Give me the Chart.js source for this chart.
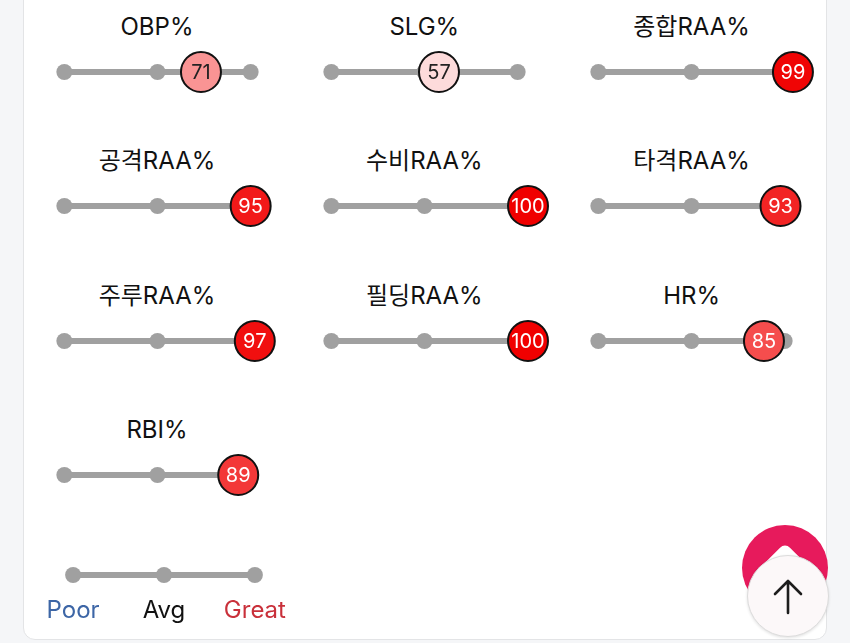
<!DOCTYPE html>
<html>
<head>
    <title>Percentile Rankings</title>
    <style>
        body {
            margin: 0;
            padding: 0;
            width: 850px;
            height: 643px;
            overflow: hidden;
            position: relative;
            background-color: #f5f6f8;
            font-family: Inter, "Noto Sans CJK KR", sans-serif;
        }

        #card {
            position: absolute;
            left: 23px;
            top: -20px;
            width: 802px;
            height: 658px;
            background-color: #fff;
            border: 1px solid #e3e4e6;
            border-radius: 12px;
        }

        .title {
            position: absolute;
            width: 267px;
            height: 30px;
            line-height: 30px;
            text-align: center;
            font-size: 24px;
            color: #111;
        }

        canvas {
            position: absolute;
        }

        #fabBack {
            position: absolute;
            left: 742px;
            top: 525px;
            width: 86px;
            height: 86px;
            border-radius: 50%;
            background-color: #e71a5c;
            overflow: hidden;
        }

        #fabPeak {
            position: absolute;
            left: 765px;
            top: 551px;
            width: 40px;
            height: 40px;
            background-color: #fff;
            border-radius: 7px 0 0 0;
            transform: rotate(45deg);
        }

        #fab {
            position: absolute;
            left: 747px;
            top: 555px;
            width: 80px;
            height: 80px;
            border-radius: 50%;
            background-color: #fcf8f9;
            border: 1px solid #dcdcdc;
            box-shadow: 0 1px 3px rgba(0, 0, 0, 0.12);
        }
    </style>
    <script src="https://cdn.jsdelivr.net/npm/chart.js"></script>
</head>
<body>
    <div id="card"></div>
    <div id="fabBack"></div>
    <div id="fabPeak"></div>
    <div id="fab">
        <svg width="80" height="80" viewBox="0 0 80 80">
            <path d="M40 25 L40 57 M27 38 L40 25 L53 38" fill="none" stroke="#1d1d1d" stroke-width="2.6" stroke-linecap="round" stroke-linejoin="round"/>
        </svg>
    </div>

    <script>
        // percentile data
        const metrics = ["OBP%", "SLG%", "종합RAA%", "공격RAA%", "수비RAA%", "타격RAA%", "주루RAA%", "필딩RAA%", "HR%", "RBI%"];
        const percentiles = [71, 57, 99, 95, 100, 93, 97, 100, 85, 89];
        const trackTicks = [5, 50, 95];
        const legendLabels = ["Poor", "Avg", "Great"];

        const GRAY = "#a0a0a0";
        const FONT = "Inter, 'Noto Sans CJK KR', sans-serif";
        const legendColors = ["#3d66a6", "#111111", "#c9303a"];

        // cell grid
        const cellLeft = 23.5, cellWidth = 267.3;
        const trackTop = 72, titleTop = 27, rowStep = 134.3;

        Chart.defaults.devicePixelRatio = 1;

        function pctColor(v) {
            if (v >= 50) {
                const t = (v - 50) / 50;
                const g = Math.round(255 * (1 - t));
                const r = Math.round(255 - 15 * t);
                return `rgb(${r},${g},${g})`;
            }
            const t = (50 - v) / 50;
            const c = Math.round(255 * (1 - t));
            return `rgb(${c},${c},${Math.round(255 - 15 * t)})`;
        }

        const valueLabel = {
            id: "valueLabel",
            afterDatasetsDraw(chart) {
                const ds = chart.data.datasets[0];
                if (!ds.isValue) return;
                const pt = chart.getDatasetMeta(0).data[0];
                const v = ds.data[0].x;
                const ctx = chart.ctx;
                ctx.save();
                ctx.font = "20px " + FONT;
                ctx.fillStyle = v >= 80 ? "#fff" : "#222";
                ctx.textAlign = "center";
                ctx.textBaseline = "middle";
                ctx.fillText(String(v), pt.x, pt.y + 1);
                ctx.restore();
            }
        };

        // draws Poor / Avg / Great under the key track
        const keyLabels = {
            id: "keyLabels",
            afterDraw(chart) {
                const ctx = chart.ctx;
                const y = chart.scales.y.getPixelForValue(0) + 36;
                ctx.save();
                ctx.font = "24px " + FONT;
                ctx.textAlign = "center";
                ctx.textBaseline = "middle";
                trackTicks.forEach(function (t, i) {
                    ctx.fillStyle = legendColors[i];
                    ctx.fillText(legendLabels[i], chart.scales.x.getPixelForValue(t), y);
                });
                ctx.restore();
            }
        };

        function trackDataset() {
            return {
                data: trackTicks.map(x => ({ x: x, y: 0 })),
                showLine: true,
                borderColor: GRAY,
                borderWidth: 6,
                pointRadius: 8,
                pointBackgroundColor: GRAY,
                pointBorderWidth: 0,
                order: 1,
                clip: false
            };
        }

        function baseOptions(bottom) {
            return {
                responsive: false,
                animation: false,
                events: [],
                layout: { padding: { left: 30, right: 30, top: 0, bottom: bottom } },
                scales: {
                    x: { type: "linear", min: 0, max: 100, display: false },
                    y: { min: -1, max: 1, display: false }
                },
                plugins: { legend: { display: false }, tooltip: { enabled: false } }
            };
        }

        metrics.forEach(function (name, i) {
            const col = i % 3, row = Math.floor(i / 3);
            const left = cellLeft + cellWidth * col;

            const title = document.createElement("div");
            title.className = "title";
            title.textContent = name;
            title.style.left = left + "px";
            title.style.top = (titleTop + rowStep * row - 15) + "px";
            document.body.appendChild(title);

            const canvas = document.createElement("canvas");
            canvas.width = 267;
            canvas.height = 60;
            canvas.style.left = left + "px";
            canvas.style.top = (trackTop + rowStep * row - 30) + "px";
            document.body.appendChild(canvas);

            const value = percentiles[i];
            new Chart(canvas, {
                type: "scatter",
                data: {
                    datasets: [{
                        isValue: true,
                        data: [{ x: value, y: 0 }],
                        pointRadius: 20,
                        pointBackgroundColor: pctColor(value),
                        pointBorderColor: "#111",
                        pointBorderWidth: 2,
                        order: 0,
                        clip: false
                    }, trackDataset()]
                },
                options: baseOptions(0),
                plugins: [valueLabel]
            });
        });

        // Poor / Avg / Great key
        const keyCanvas = document.createElement("canvas");
        keyCanvas.width = 262;
        keyCanvas.height = 95;
        keyCanvas.style.left = "33px";
        keyCanvas.style.top = "541px";
        document.body.appendChild(keyCanvas);

        new Chart(keyCanvas, {
            type: "scatter",
            data: { datasets: [trackDataset()] },
            options: baseOptions(35),
            plugins: [keyLabels]
        });
    </script>
</body>
</html>
